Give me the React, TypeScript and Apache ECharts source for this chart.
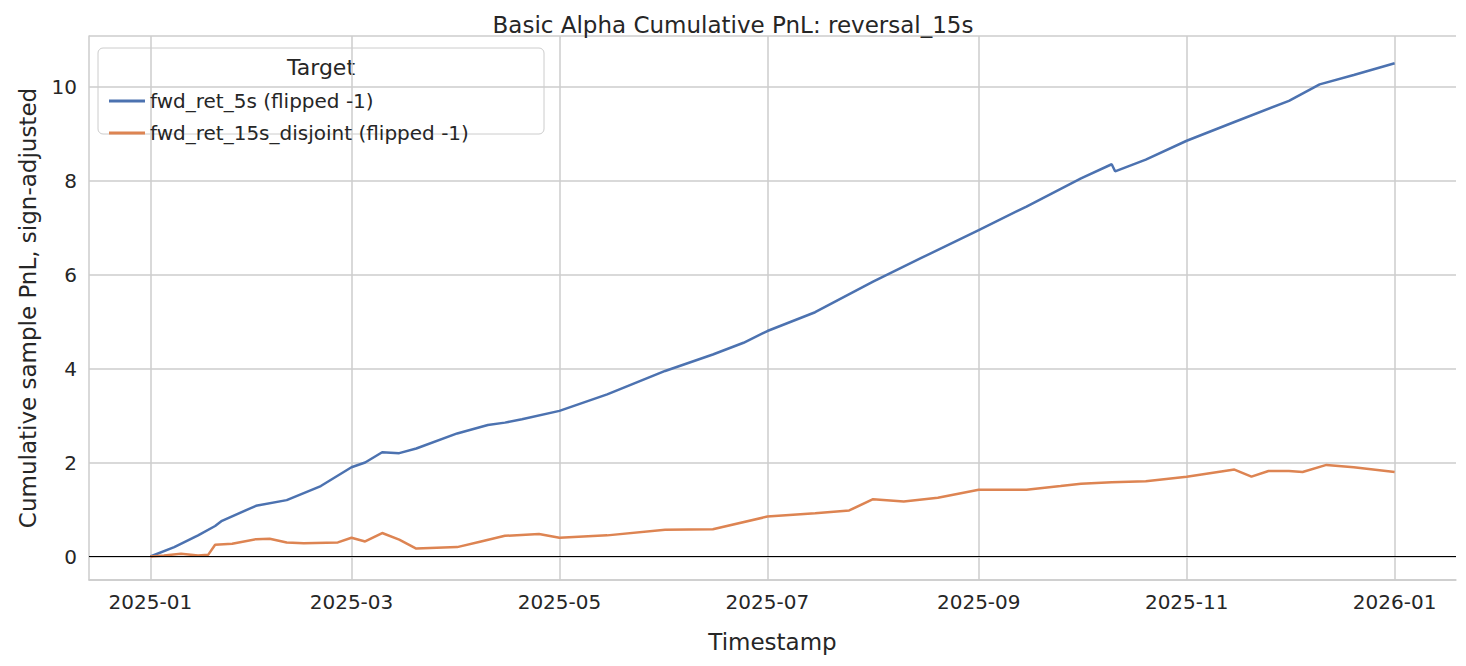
import React, { useEffect, useRef } from 'react';
import * as echarts from 'echarts';

const blueDates = ['2025-01-01', '2025-01-08', '2025-01-15', '2025-01-20', '2025-01-22', '2025-02-01', '2025-02-10', '2025-02-20', '2025-03-01', '2025-03-05', '2025-03-10', '2025-03-15', '2025-03-20', '2025-04-01', '2025-04-10', '2025-04-15', '2025-04-20', '2025-05-01', '2025-05-15', '2025-06-01', '2025-06-15', '2025-06-24', '2025-07-01', '2025-07-15', '2025-08-01', '2025-08-15', '2025-09-01', '2025-09-15', '2025-10-01', '2025-10-10', '2025-10-11', '2025-10-20', '2025-11-01', '2025-11-15', '2025-12-01', '2025-12-10', '2025-12-20', '2026-01-01'];
const blueValues = [0, 0.2, 0.45, 0.65, 0.76, 1.08, 1.2, 1.5, 1.9, 2.0, 2.22, 2.2, 2.3, 2.62, 2.8, 2.85, 2.92, 3.1, 3.45, 3.95, 4.3, 4.55, 4.8, 5.2, 5.85, 6.35, 6.95, 7.45, 8.05, 8.35, 8.2, 8.45, 8.85, 9.25, 9.7, 10.05, 10.25, 10.5];

const orangeDates = ['2025-01-01', '2025-01-05', '2025-01-10', '2025-01-15', '2025-01-18', '2025-01-20', '2025-01-25', '2025-02-01', '2025-02-05', '2025-02-10', '2025-02-15', '2025-02-25', '2025-03-01', '2025-03-05', '2025-03-10', '2025-03-15', '2025-03-20', '2025-04-01', '2025-04-08', '2025-04-15', '2025-04-25', '2025-05-01', '2025-05-15', '2025-06-01', '2025-06-15', '2025-07-01', '2025-07-15', '2025-07-25', '2025-08-01', '2025-08-10', '2025-08-20', '2025-09-01', '2025-09-15', '2025-09-25', '2025-10-01', '2025-10-10', '2025-10-20', '2025-11-01', '2025-11-15', '2025-11-20', '2025-11-25', '2025-12-01', '2025-12-05', '2025-12-12', '2025-12-20', '2026-01-01'];
const orangeValues = [0, 0.02, 0.06, 0.02, 0.04, 0.25, 0.27, 0.37, 0.38, 0.3, 0.28, 0.3, 0.4, 0.32, 0.5, 0.36, 0.17, 0.2, 0.32, 0.44, 0.48, 0.4, 0.45, 0.57, 0.58, 0.85, 0.92, 0.98, 1.22, 1.17, 1.25, 1.42, 1.42, 1.5, 1.55, 1.58, 1.6, 1.7, 1.85, 1.7, 1.82, 1.82, 1.8, 1.95, 1.9, 1.8];

const xTickLabels = ['2025-01', '2025-03', '2025-05', '2025-07', '2025-09', '2025-11', '2026-01'];

const FONT = 'DejaVu Sans';
const ts = (d: string) => new Date(d + 'T00:00:00Z').getTime();

export default function App() {
  const ref = useRef<HTMLDivElement>(null);

  useEffect(() => {
    if (!ref.current) return;
    const chart = echarts.init(ref.current, undefined, { renderer: 'svg' });
    const textColor = '#262626';
    chart.setOption({
      animation: false,
      textStyle: { fontFamily: FONT },
      title: {
        text: 'Basic Alpha Cumulative PnL: reversal_15s',
        left: 'center',
        top: 0,
        textStyle: { fontFamily: FONT, fontSize: 23, fontWeight: 'normal', color: textColor },
      },
      grid: { left: 78, right: 2, top: 28, bottom: 73 },
      legend: {
        orient: 'vertical',
        left: 96,
        top: 78,
        itemGap: 12,
        itemWidth: 36,
        itemHeight: 3,
        icon: 'rect',
        textStyle: { fontFamily: FONT, fontSize: 20, color: textColor },
      },
      graphic: [
        {
          type: 'rect',
          shape: { x: 90, y: 40, width: 446, height: 86, r: 5 },
          style: { fill: 'rgba(255,255,255,0.8)', stroke: '#cccccc', lineWidth: 1 },
          z: -1,
        },
        {
          type: 'text',
          x: 313,
          y: 48,
          style: { text: 'Target', fontFamily: FONT, fontSize: 22, fill: textColor, textAlign: 'center' },
        },
      ],
      xAxis: {
        type: 'time',
        min: ts('2024-12-14'),
        max: ts('2026-01-19'),
        name: 'Timestamp',
        nameLocation: 'middle',
        nameGap: 50,
        nameTextStyle: { fontFamily: FONT, fontSize: 23, color: textColor },
        axisLabel: { show: false },
        axisTick: { show: false },
        splitLine: { show: false },
        axisLine: { show: true, onZero: false, lineStyle: { color: '#cccccc', width: 1.5 } },
      },
      yAxis: {
        type: 'value',
        min: -0.5,
        max: 11.08,
        splitNumber: 5,
        name: 'Cumulative sample PnL, sign-adjusted',
        nameLocation: 'middle',
        nameGap: 50,
        nameTextStyle: { fontFamily: FONT, fontSize: 23, color: textColor },
        axisLabel: { showMinLabel: false, showMaxLabel: false, fontFamily: FONT, fontSize: 20, color: textColor, margin: 12 },
        axisTick: { show: false },
        axisLine: { show: true, lineStyle: { color: '#cccccc', width: 1.5 } },
        splitLine: { lineStyle: { color: '#cccccc', width: 1.5 } },
      },
      series: [
        {
          name: 'fwd_ret_5s (flipped -1)',
          type: 'line',
          showSymbol: false,
          data: blueDates.map((d, i) => [ts(d), blueValues[i]]),
          lineStyle: { color: '#4c72b0', width: 2.5 },
          itemStyle: { color: '#4c72b0' },
          z: 3,
          markLine: {
            silent: true,
            symbol: 'none',
            animation: false,
            lineStyle: { color: '#cccccc', width: 1.5, type: 'solid' },
            label: {
              show: true,
              position: 'start',
              formatter: '{b}',
              distance: 12,
              fontFamily: FONT,
              fontSize: 20,
              color: textColor,
            },
            data: xTickLabels.map((t) => ({ name: t, xAxis: ts(t + '-01') })),
            z: 1,
          },
        },
        {
          name: 'fwd_ret_15s_disjoint (flipped -1)',
          type: 'line',
          showSymbol: false,
          data: orangeDates.map((d, i) => [ts(d), orangeValues[i]]),
          lineStyle: { color: '#dd8452', width: 2.5 },
          itemStyle: { color: '#dd8452' },
          z: 3,
          markLine: {
            silent: true,
            symbol: 'none',
            animation: false,
            label: { show: false },
            lineStyle: { color: '#000000', width: 1.2, type: 'solid' },
            data: [{ yAxis: 0 }],
          },
        },
      ],
    });
    return () => chart.dispose();
  }, []);

  return <div ref={ref} style={{ width: 1450, height: 650 }} />;
}
